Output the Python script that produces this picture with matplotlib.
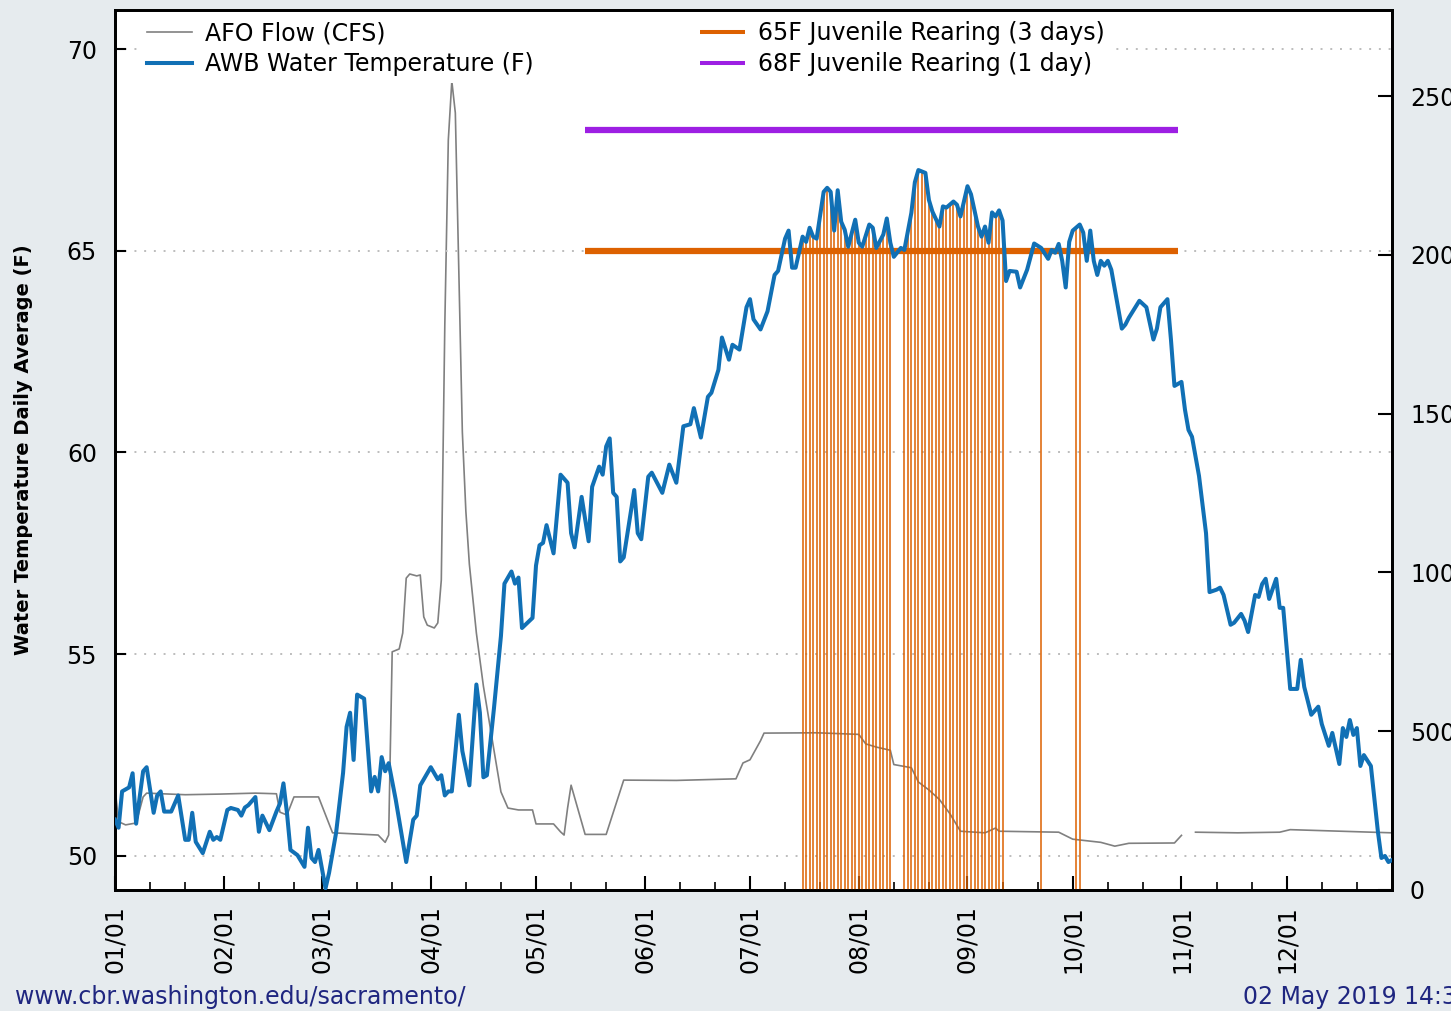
import numpy as np
import matplotlib.pyplot as plt

# AWB water temperature, daily average (F); day 0 = Jan 01
temp_day = [0, 1, 2, 4, 5, 6, 8, 9, 11, 12, 13, 14, 16, 18, 20, 21, 22, 23, 25, 27,
            28, 29, 30, 32, 33, 35, 36, 37, 38, 40, 41, 42, 44, 46, 47, 48, 49, 50, 52, 54,
            55, 56, 57, 58, 60, 61, 63, 65, 66, 67, 68, 69, 71, 73, 74, 75, 76, 77, 78, 80,
            83, 85, 86, 87, 90, 92, 93, 94, 95, 96, 98, 99, 101, 103, 104, 105, 106, 108, 110, 111,
            113, 114, 115, 116, 119, 120, 121, 122, 123, 125, 127, 129, 130, 131, 133, 135, 136, 138, 139, 140,
            141, 142, 143, 144, 145, 148, 149, 150, 152, 153, 156, 158, 160, 162, 164, 165, 167, 169, 170, 172,
            173, 175, 176, 178, 180, 181, 182, 184, 186, 188, 189, 191, 192, 193, 194, 196, 197, 198, 199, 200,
            202, 203, 204, 205, 206, 207, 208, 209, 211, 212, 213, 215, 216, 217, 219, 220, 221, 222, 224, 225,
            227, 228, 229, 231, 232, 233, 235, 236, 237, 239, 240, 241, 243, 244, 246, 247, 248, 249, 250, 251,
            252, 253, 254, 255, 257, 258, 260, 262, 264, 266, 267, 268, 269, 270, 271, 272, 273, 275, 276, 277,
            278, 279, 280, 281, 282, 283, 284, 287, 288, 289, 292, 294, 296, 297, 298, 300, 301, 302, 304, 305,
            306, 307, 309, 311, 312, 314, 315, 316, 318, 319, 321, 322, 323, 325, 326, 327, 328, 329, 331, 332,
            333, 335, 337, 338, 339, 341, 343, 344, 346, 347, 349, 350, 351, 352, 353, 354, 355, 356, 358, 360,
            361, 362, 363, 364]
temp_val = [50.9, 50.7, 51.6, 51.7, 52.05, 50.8, 52.1, 52.2, 51.07, 51.5, 51.6, 51.1, 51.1, 51.5, 50.4, 50.4, 51.07, 50.35, 50.07, 50.6,
            50.4, 50.47, 50.4, 51.14, 51.19, 51.14, 51.0, 51.2, 51.26, 51.46, 50.6, 51.0, 50.64, 51.1, 51.3, 51.8, 51.07, 50.15, 50.02, 49.73,
            50.7, 49.95, 49.85, 50.15, 49.2, 49.58, 50.57, 52.06, 53.2, 53.55, 52.38, 54.0, 53.9, 51.6, 51.96, 51.6, 52.45, 52.1, 52.3, 51.4,
            49.85, 50.9, 51.0, 51.75, 52.2, 51.9, 52.0, 51.5, 51.6, 51.6, 53.5, 52.6, 51.75, 54.25, 53.55, 51.95, 52.0, 53.65, 55.45, 56.75,
            57.05, 56.75, 56.9, 55.65, 55.9, 57.2, 57.7, 57.76, 58.2, 57.5, 59.45, 59.25, 58.0, 57.65, 58.9, 57.8, 59.15, 59.65, 59.45, 60.15,
            60.35, 59.0, 58.9, 57.3, 57.4, 59.07, 58.0, 57.85, 59.4, 59.5, 59.0, 59.7, 59.25, 60.65, 60.7, 61.1, 60.37, 61.38, 61.48, 62.05,
            62.85, 62.3, 62.67, 62.55, 63.6, 63.8, 63.3, 63.05, 63.5, 64.4, 64.5, 65.3, 65.5, 64.58, 64.58, 65.35, 65.22, 65.57, 65.35, 65.3,
            66.46, 66.56, 66.46, 65.5, 66.5, 65.72, 65.52, 65.1, 65.77, 65.2, 65.1, 65.65, 65.57, 65.07, 65.4, 65.8, 65.2, 64.85, 65.07, 65.02,
            65.94, 66.7, 67.0, 66.93, 66.26, 65.97, 65.6, 66.1, 66.07, 66.22, 66.14, 65.85, 66.6, 66.4, 65.6, 65.35, 65.6, 65.2, 65.95, 65.85,
            66.0, 65.75, 64.25, 64.5, 64.48, 64.09, 64.53, 65.18, 65.07, 64.8, 65.02, 64.95, 65.17, 64.75, 64.09, 65.22, 65.5, 65.65, 65.45, 64.75,
            65.5, 64.75, 64.4, 64.75, 64.63, 64.75, 64.53, 63.07, 63.17, 63.34, 63.76, 63.6, 62.8, 63.07, 63.6, 63.8, 62.8, 61.65, 61.75, 61.06,
            60.56, 60.39, 59.42, 58.0, 56.54, 56.6, 56.65, 56.47, 55.73, 55.78, 56.0, 55.83, 55.55, 56.47, 56.42, 56.74, 56.87, 56.37, 56.87, 56.15,
            56.15, 54.14, 54.14, 54.86, 54.19, 53.5, 53.7, 53.27, 52.73, 53.05, 52.28, 53.17, 52.95, 53.37, 53.0, 53.17, 52.23, 52.5, 52.23, 50.6,
            49.95, 50.0, 49.85, 49.9]

# AFO flow (CFS); NaN = missing
flow_day = [0, 1, 3, 6, 8, 9, 20, 30, 40, 46, 47, 49, 51, 58, 62, 75, 77, 78, 79, 81,
            82, 83, 84, 86, 87, 88, 89, 91, 92, 93, 94, 95, 96, 97, 98, 99, 100, 101, 103, 105,
            108, 110, 112, 115, 119, 120, 125, 127, 128, 129, 130, 134, 140, 145, 160, 177, 179, 181, 184, 185,
            200, 212, 214, 217, 221, 222, 227, 229, 232, 235, 238, 241, 248, 251, 252, 269, 273, 281, 285, 289,
            302, 304, 305, 308, 320, 332, 335, 364]
flow_val = [320, 215, 205, 211, 293, 305, 300, 302, 305, 303, 245, 236, 293, 293, 180, 173, 150, 173, 750, 759,
            809, 982, 995, 989, 992, 860, 834, 825, 841, 976, 1779, 2362, 2547, 2447, 1946, 1442, 1193, 1026, 809, 642,
            441, 309, 258, 252, 252, 208, 208, 183, 173, 258, 330, 175, 175, 346, 345, 350, 400, 410, 470, 494,
            495, 490, 460, 450, 440, 395, 385, 340, 315, 285, 240, 185, 180, 195, 185, 182, 160, 150, 138, 147,
            148, 172, np.nan, 182, 180, 182, 190, 180]

# days flagged for the 65F juvenile rearing criterion
exceed_days = list(range(196, 222)) + list(range(225, 254)) + [264, 274, 275]

crit_start, crit_end = 134, 303
crit_65 = 65
crit_68 = 68

month_starts = [0, 31, 59, 90, 120, 151, 181, 212, 243, 273, 304, 334]
month_labels = ['01/01', '02/01', '03/01', '04/01', '05/01', '06/01',
                '07/01', '08/01', '09/01', '10/01', '11/01', '12/01']

blue = '#1170b5'
orange = '#dd6100'
purple = '#9d1fe3'
navy = '#1f2680'
ymin, ymax = 49.157, 70.967

fig = plt.figure(figsize=(14.51, 10.11), dpi=100, facecolor='#e6ebee')
ax2 = fig.add_axes([0.0793, 0.1197, 0.88, 0.8704])
ax = ax2.twinx()
ax.yaxis.tick_left()
ax.yaxis.set_label_position('left')
ax2.yaxis.tick_right()
ax.set_zorder(ax2.get_zorder() + 1)
ax.patch.set_visible(False)
ax2.set_facecolor('white')

# flow on the right axis
flow_line, = ax2.plot(flow_day, flow_val, color='#808080', lw=1.2)
ax2.set_ylim(0, 2771)
ax2.set_yticks([0, 500, 1000, 1500, 2000, 2500])
ax2.tick_params(axis='y', direction='in', length=10, width=1.5, labelsize=17, pad=13)

# exceedance impulses, clipped to the area under the temperature curve
area = ax.fill_between(temp_day, ymin, temp_val, color='none', lw=0)
vl = ax.vlines(exceed_days, ymin, ymax, color=orange, lw=1.1, zorder=2)
vl.set_clip_path(area.get_paths()[0], ax.transData)

h65, = ax.plot([crit_start, crit_end], [crit_65, crit_65], color=orange, lw=4.5, zorder=3,
               solid_capstyle='butt')
h68, = ax.plot([crit_start, crit_end], [crit_68, crit_68], color=purple, lw=4.5, zorder=3,
               solid_capstyle='butt')
temp_line, = ax.plot(temp_day, temp_val, color=blue, lw=2.9, zorder=4)

ax.set_xlim(0, 364)
ax.set_ylim(ymin, ymax)
ax.set_yticks([50, 55, 60, 65, 70])
ax.tick_params(axis='y', direction='in', length=8, width=1.5, labelsize=17, pad=13)
ax.tick_params(axis='x', which='both', bottom=False, labelbottom=False)
ax.set_xticks(month_starts)
ax2.set_xlim(0, 364)
ax2.set_xticks(month_starts)
ax2.set_xticklabels(month_labels, rotation=90)
ax2.set_xticks([m + d for m in month_starts for d in (10, 20)], minor=True)
ax2.tick_params(axis='x', which='major', direction='in', length=10, width=1.5, labelsize=17, pad=11)
ax2.tick_params(axis='x', which='minor', direction='in', length=6, width=1.2)
ax.grid(True, linestyle=(0, (1, 4)), color='#bdbdbd', lw=1.4)
ax.set_axisbelow(True)
for a in (ax, ax2):
    for s in a.spines.values():
        s.set_linewidth(2)

ax.set_ylabel('Water Temperature Daily Average (F)', fontsize=14, fontweight='bold')
ax.yaxis.set_label_coords(-0.064, 0.5)

leg = ax.legend([flow_line, temp_line, h65, h68],
                ['AFO Flow (CFS)', 'AWB Water Temperature (F)',
                 '65F Juvenile Rearing (3 days)', '68F Juvenile Rearing (1 day)'],
                ncol=2, loc='upper left', bbox_to_anchor=(0.0196, 0.995), borderaxespad=0,
                fontsize=17, handlelength=1.9, handletextpad=0.55, columnspacing=7.05,
                labelspacing=0.28, borderpad=0.3, frameon=True, fancybox=False)
leg.get_frame().set_edgecolor('none')
leg.get_frame().set_facecolor('white')
leg.get_frame().set_alpha(1)
for h in leg.legend_handles:
    h.set_linewidth(2.9)
leg.legend_handles[0].set_linewidth(1.2)

fig.text(15 / 1451, 0.0138, 'www.cbr.washington.edu/sacramento/', color=navy,
         fontsize=17, va='center', ha='left')
fig.text(1243 / 1451, 0.0138, '02 May 2019 14:32', color=navy,
         fontsize=17, va='center', ha='left')

plt.savefig('out.png', dpi=100, facecolor=fig.get_facecolor())
